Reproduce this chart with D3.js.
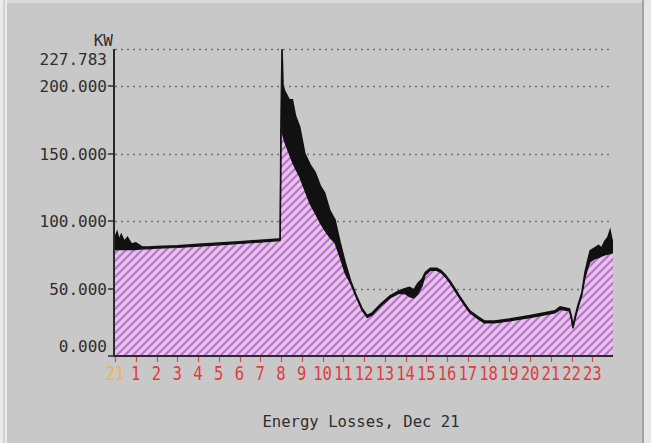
<!DOCTYPE html>
<html><head><meta charset="utf-8">
<script src="https://cdn.jsdelivr.net/npm/d3@7"></script>
<style>
html,body{margin:0;padding:0;background:#c8c8c8;overflow:hidden}
svg{display:block}
</style></head>
<body>
<svg id="chart" width="651" height="443"></svg>
<script>
// ---- data (hours, lower envelope / upper envelope of load, thousand kW) ----
const hours = [0,0.1,0.2,0.3,0.45,0.6,0.8,1.0,1.3,1.6,2,3,4,5,6,7,7.9,7.96,8.0,8.05,8.1,8.2,8.4,8.55,8.7,8.9,9.15,9.4,9.65,9.9,10.1,10.35,10.6,10.85,11.1,11.35,11.6,11.9,12.15,12.4,12.77,13.25,13.7,14.0,14.2,14.4,14.6,14.8,14.95,15.2,15.5,15.7,15.9,16.15,16.4,16.6,16.87,17.1,17.5,17.8,18.3,19,20,20.7,21.2,21.45,21.9,22.0,22.07,22.17,22.3,22.5,22.65,22.8,22.9,23.1,23.3,23.45,23.6,23.75,23.86,23.95,24];
const lowLoad = [79,79,79,79,79,79,79,79,79.5,79.5,80,80.5,81.5,82.5,83.5,84.5,85.5,85.5,168,168,163,158,150,144,139,133,123,113,106,98.6,93.5,88,84,73,61,54,44.5,34,28.5,30.5,36.5,43,46.5,46,44,43,46,52,60,63.5,63.5,62,59,54,48,43,37,32,27.5,24.5,24.5,26,28.5,30.5,32,34.5,33.5,27,20.5,27,35,45,58,66,70,72,73,74,75,75.5,76,76.5,76.5];
const highLoad = [88,92,86,90,85,88,83,84,81,80.8,81.3,81.8,82.8,83.8,84.8,85.8,86.8,86.8,175,227.783,200,196,190,190,178,170,150,142,136,126,121,108,101,84,69,56,46,35.5,30,32,38,44.5,48.5,50,51,49,54,57,62,65,65,63.5,60.5,55.5,49.5,44.5,38.5,33.5,29,26,26,27.5,30,32,33.5,36.5,35,29,22,29,37,47,62,72,78,80,82,80,85,88,93,86,84];
const hourLabels = ["21","1","2","3","4","5","6","7","8","9","10","11","12","13","14","15","16","17","18","19","20","21","22","23"];
const yTicks = [0,50,100,150,200,227.783];
const yTickLabels = ["0.000","50.000","100.000","150.000","200.000","227.783"];
const unitLabel = "KW";
const title = "Energy Losses, Dec 21";

const data = hours.map((h,i)=>({h, lo: lowLoad[i], hi: highLoad[i]}));

const svg = d3.select("#chart");
// window frame
svg.append("rect").attr("x",0).attr("y",0).attr("width",651).attr("height",3).attr("fill","#dadada");
svg.append("rect").attr("x",0).attr("y",0).attr("width",3).attr("height",443).attr("fill","#ececE6");
svg.append("rect").attr("x",3).attr("y",0).attr("width",2).attr("height",443).attr("fill","#d2d2d2");
svg.append("rect").attr("x",5).attr("y",0).attr("width",2).attr("height",443).attr("fill","#eaeaea");
svg.append("rect").attr("x",642).attr("y",0).attr("width",2).attr("height",443).attr("fill","#a4a4a4");
svg.append("rect").attr("x",644).attr("y",0).attr("width",7).attr("height",443).attr("fill","#e6e6e6");

const x = d3.scaleLinear().domain([0,24]).range([115,613]);
const y = d3.scaleLinear().domain([0,227.783]).range([356,49]);

const defs = svg.append("defs");
const P = 8;
const pat = defs.append("pattern").attr("id","hatch").attr("patternUnits","userSpaceOnUse")
  .attr("width",P).attr("height",P);
pat.append("rect").attr("width",P).attr("height",P).attr("fill","#d8cddb");
pat.append("path").attr("d",`M-1,1 l2,-2 M0,${P} l${P},-${P} M${P-1},${P+1} l2,-2`)
  .attr("stroke","#c866da").attr("stroke-width",2.1);
defs.append("clipPath").attr("id","clip").append("rect")
  .attr("x",x(0)).attr("y",y(227.783)-2).attr("width",x(24)-x(0)).attr("height",y(0)-y(227.783)+2);

// grid
const grid = svg.append("g");
grid.selectAll("line").data(yTicks.filter(d=>d>0)).join("line")
  .attr("x1",x(0)).attr("x2",x(24)).attr("y1",d=>Math.round(y(d))+0.5).attr("y2",d=>Math.round(y(d))+0.5)
  .attr("stroke","#707070").attr("stroke-width",1.5).attr("stroke-dasharray","2,4");

const plot = svg.append("g").attr("clip-path","url(#clip)");
plot.append("path").datum(data)
  .attr("d", d3.area().x(d=>x(d.h)).y0(y(0)).y1(d=>y(d.lo)))
  .attr("fill","url(#hatch)");
plot.append("path").datum(data)
  .attr("d", d3.area().x(d=>x(d.h)).y0(d=>y(d.lo)).y1(d=>y(d.hi)))
  .attr("fill","#111");
plot.append("path").datum(data)
  .attr("d", d3.line().x(d=>x(d.h)).y(d=>y(d.hi)))
  .attr("fill","none").attr("stroke","#111").attr("stroke-width",1.6);
plot.append("path").datum(data)
  .attr("d", d3.line().x(d=>x(d.h)).y(d=>y(d.lo)))
  .attr("fill","none").attr("stroke","#111").attr("stroke-width",1.2);

// axes
svg.append("line").attr("x1",114).attr("x2",114).attr("y1",y(227.783)).attr("y2",y(0)+1)
  .attr("stroke","#2a2a2a").attr("stroke-width",2);
svg.append("line").attr("x1",113).attr("x2",x(24)).attr("y1",y(0)).attr("y2",y(0))
  .attr("stroke","#2a2a2a").attr("stroke-width",2);

// y ticks & labels
const yl = svg.append("g").attr("font-family","DejaVu Sans Mono").attr("font-size",16).attr("fill","#2e2e2e");
yl.selectAll("line").data(yTicks.filter(d=>d<220)).join("line")
  .attr("x1",108).attr("x2",113).attr("y1",d=>Math.round(y(d))).attr("y2",d=>Math.round(y(d)))
  .attr("stroke","#2e2e2e").attr("stroke-width",1.5);
const yOffset = v => v===0 ? -4 : (v>220 ? 16 : 6);
yl.selectAll("text").data(yTicks).join("text")
  .attr("x",107).attr("y",(d)=>y(d)+yOffset(d)).attr("text-anchor","end")
  .text((d,i)=>yTickLabels[i]);
yl.append("text").attr("x",113).attr("y",46).attr("text-anchor","end").text(unitLabel);

// x ticks & labels
const xl = svg.append("g").attr("font-family","DejaVu Sans Mono").attr("font-size",19);
xl.selectAll("line").data(d3.range(24)).join("line")
  .attr("x1",d=>Math.round(x(d))+0.5).attr("x2",d=>Math.round(x(d))+0.5).attr("y1",357).attr("y2",362)
  .attr("stroke","#e04848").attr("stroke-width",1.2);
xl.selectAll("text").data(d3.range(24)).join("text")
  .attr("transform",d=>`translate(${x(d)},380) scale(0.82,1)`)
  .attr("text-anchor","middle")
  .attr("fill",d=>d===0?"#f0b450":"#e03c3c")
  .text(d=>hourLabels[d]);

svg.append("text").attr("x",361).attr("y",427).attr("text-anchor","middle")
  .attr("font-family","DejaVu Sans Mono").attr("font-size",15.6).attr("fill","#2e2e2e")
  .text(title);
</script>
</body></html>
